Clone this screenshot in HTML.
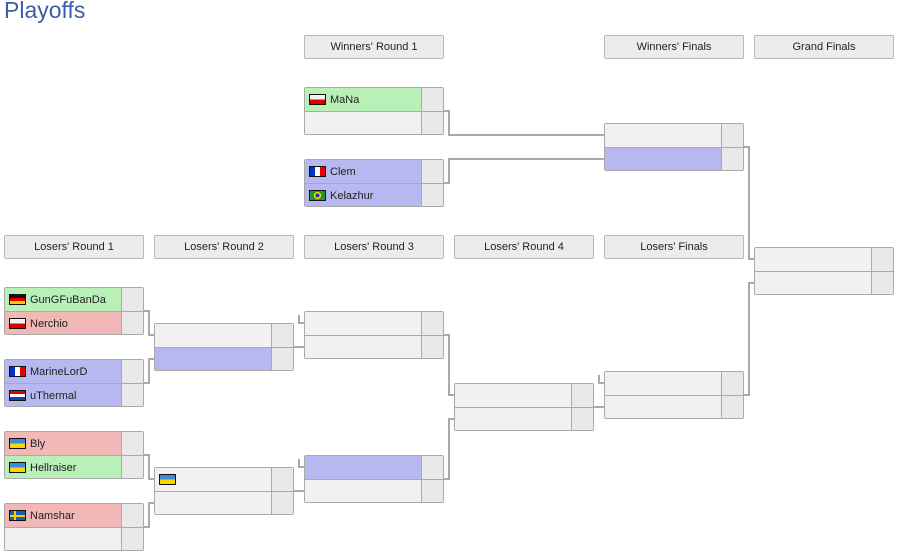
<!DOCTYPE html>
<html><head><meta charset="utf-8">
<style>
body{margin:0;width:899px;height:556px;background:#fff;font-family:"Liberation Sans","DejaVu Sans",sans-serif;position:relative;overflow:hidden}
.t{position:absolute;left:4px;top:-3px;font-size:23px;color:#3b5ea8}
.h{position:absolute;width:138px;height:22px;border:1px solid #b8b8b8;border-radius:2px;background:#ececec;font-size:11px;color:#222;text-align:center;line-height:23px}
.m{position:absolute;width:138px;height:46px;border:1px solid #aaa;border-radius:2px;overflow:hidden}
.r{position:absolute;left:0;width:138px;height:23px;background:#f1f1f1}
.r0{top:0}.r1{top:24px}
.line{position:absolute;left:0;top:23px;width:138px;height:1px;background:#aaa}
.r .s{position:absolute;right:0;top:0;width:21px;height:23px;background:#e9e9e9;border-left:1px solid #aaa}
.r .n{position:absolute;left:25px;top:1px;line-height:23px;font-size:11px;color:#222}
.g{background:#b8f0b8}.red{background:#f2b8b8}.b{background:#b8b8f0}
.f{position:absolute;left:4px;top:6px;width:17px;height:11px;border:1px solid #111;box-sizing:border-box}
.de{background:linear-gradient(#111 33%,#d00 33% 66%,#fc0 66%)}
.pl{background:linear-gradient(#f4f4f4 50%,#d00 50%)}
.fr{background:linear-gradient(90deg,#0033cc 33%,#fff 33% 66%,#e00 66%)}
.nl{background:linear-gradient(#d00 33%,#fff 33% 66%,#1a3fb0 66%)}
.ua{background:linear-gradient(#3a8ae0 50%,#ffd500 50%)}
.br{background:radial-gradient(circle at 50% 50%,#1a3a9a 22%,#ffd800 23% 40%,#1a9a3a 41%)}
.se{background:linear-gradient(#1660b0 0 4px,#ffcc00 4px 6px,#1660b0 6px),#1660b0}
.se:after{content:"";position:absolute;left:4px;top:0;width:2px;height:9px;background:#ffcc00}
</style></head><body>
<div class="t">Playoffs</div>
<div class="h" style="left:304px;top:35px">Winners' Round 1</div>
<div class="h" style="left:604px;top:35px">Winners' Finals</div>
<div class="h" style="left:754px;top:35px">Grand Finals</div>
<div class="h" style="left:4px;top:235px">Losers' Round 1</div>
<div class="h" style="left:154px;top:235px">Losers' Round 2</div>
<div class="h" style="left:304px;top:235px">Losers' Round 3</div>
<div class="h" style="left:454px;top:235px">Losers' Round 4</div>
<div class="h" style="left:604px;top:235px">Losers' Finals</div>

<svg width="899" height="556" style="position:absolute;left:0;top:0" fill="none" stroke="#aaa" stroke-width="2">
<path d="M444 111H449V135H604"/><path d="M444 183H449V159H604"/>
<path d="M744 147H749V259H754"/><path d="M744 395H749V283H754"/>
<path d="M144 311H149V335H154"/><path d="M144 383H149V359H154"/>
<path d="M144 455H149V479H154"/><path d="M144 527H149V503H154"/>
<path d="M294 347H304"/><path d="M294 491H304"/>
<path d="M299 315V323H304"/><path d="M299 459V467H304"/>
<path d="M444 335H449V395H454"/><path d="M444 479H449V419H454"/>
<path d="M594 407H604"/><path d="M599 375V383H604"/>
</svg>

<div class="m" style="left:304px;top:87px"><div class="r r0 g"><div class="f pl"></div><div class="n">MaNa</div><div class="s"></div></div><div class="line"></div><div class="r r1"><div class="s"></div></div></div>
<div class="m" style="left:304px;top:159px"><div class="r r0 b"><div class="f fr"></div><div class="n">Clem</div><div class="s"></div></div><div class="line"></div><div class="r r1 b"><div class="f br"></div><div class="n">Kelazhur</div><div class="s"></div></div></div>
<div class="m" style="left:604px;top:123px"><div class="r r0"><div class="s"></div></div><div class="line"></div><div class="r r1 b"><div class="s"></div></div></div>
<div class="m" style="left:754px;top:247px"><div class="r r0"><div class="s"></div></div><div class="line"></div><div class="r r1"><div class="s"></div></div></div>
<div class="m" style="left:4px;top:287px"><div class="r r0 g"><div class="f de"></div><div class="n">GunGFuBanDa</div><div class="s"></div></div><div class="line"></div><div class="r r1 red"><div class="f pl"></div><div class="n">Nerchio</div><div class="s"></div></div></div>
<div class="m" style="left:4px;top:359px"><div class="r r0 b"><div class="f fr"></div><div class="n">MarineLorD</div><div class="s"></div></div><div class="line"></div><div class="r r1 b"><div class="f nl"></div><div class="n">uThermal</div><div class="s"></div></div></div>
<div class="m" style="left:4px;top:431px"><div class="r r0 red"><div class="f ua"></div><div class="n">Bly</div><div class="s"></div></div><div class="line"></div><div class="r r1 g"><div class="f ua"></div><div class="n">Hellraiser</div><div class="s"></div></div></div>
<div class="m" style="left:4px;top:503px"><div class="r r0 red"><div class="f se"></div><div class="n">Namshar</div><div class="s"></div></div><div class="line"></div><div class="r r1"><div class="s"></div></div></div>
<div class="m" style="left:154px;top:323px"><div class="r r0"><div class="s"></div></div><div class="line"></div><div class="r r1 b"><div class="s"></div></div></div>
<div class="m" style="left:154px;top:467px"><div class="r r0"><div class="f ua"></div><div class="s"></div></div><div class="line"></div><div class="r r1"><div class="s"></div></div></div>
<div class="m" style="left:304px;top:311px"><div class="r r0"><div class="s"></div></div><div class="line"></div><div class="r r1"><div class="s"></div></div></div>
<div class="m" style="left:304px;top:455px"><div class="r r0 b"><div class="s"></div></div><div class="line"></div><div class="r r1"><div class="s"></div></div></div>
<div class="m" style="left:454px;top:383px"><div class="r r0"><div class="s"></div></div><div class="line"></div><div class="r r1"><div class="s"></div></div></div>
<div class="m" style="left:604px;top:371px"><div class="r r0"><div class="s"></div></div><div class="line"></div><div class="r r1"><div class="s"></div></div></div>
</body></html>
